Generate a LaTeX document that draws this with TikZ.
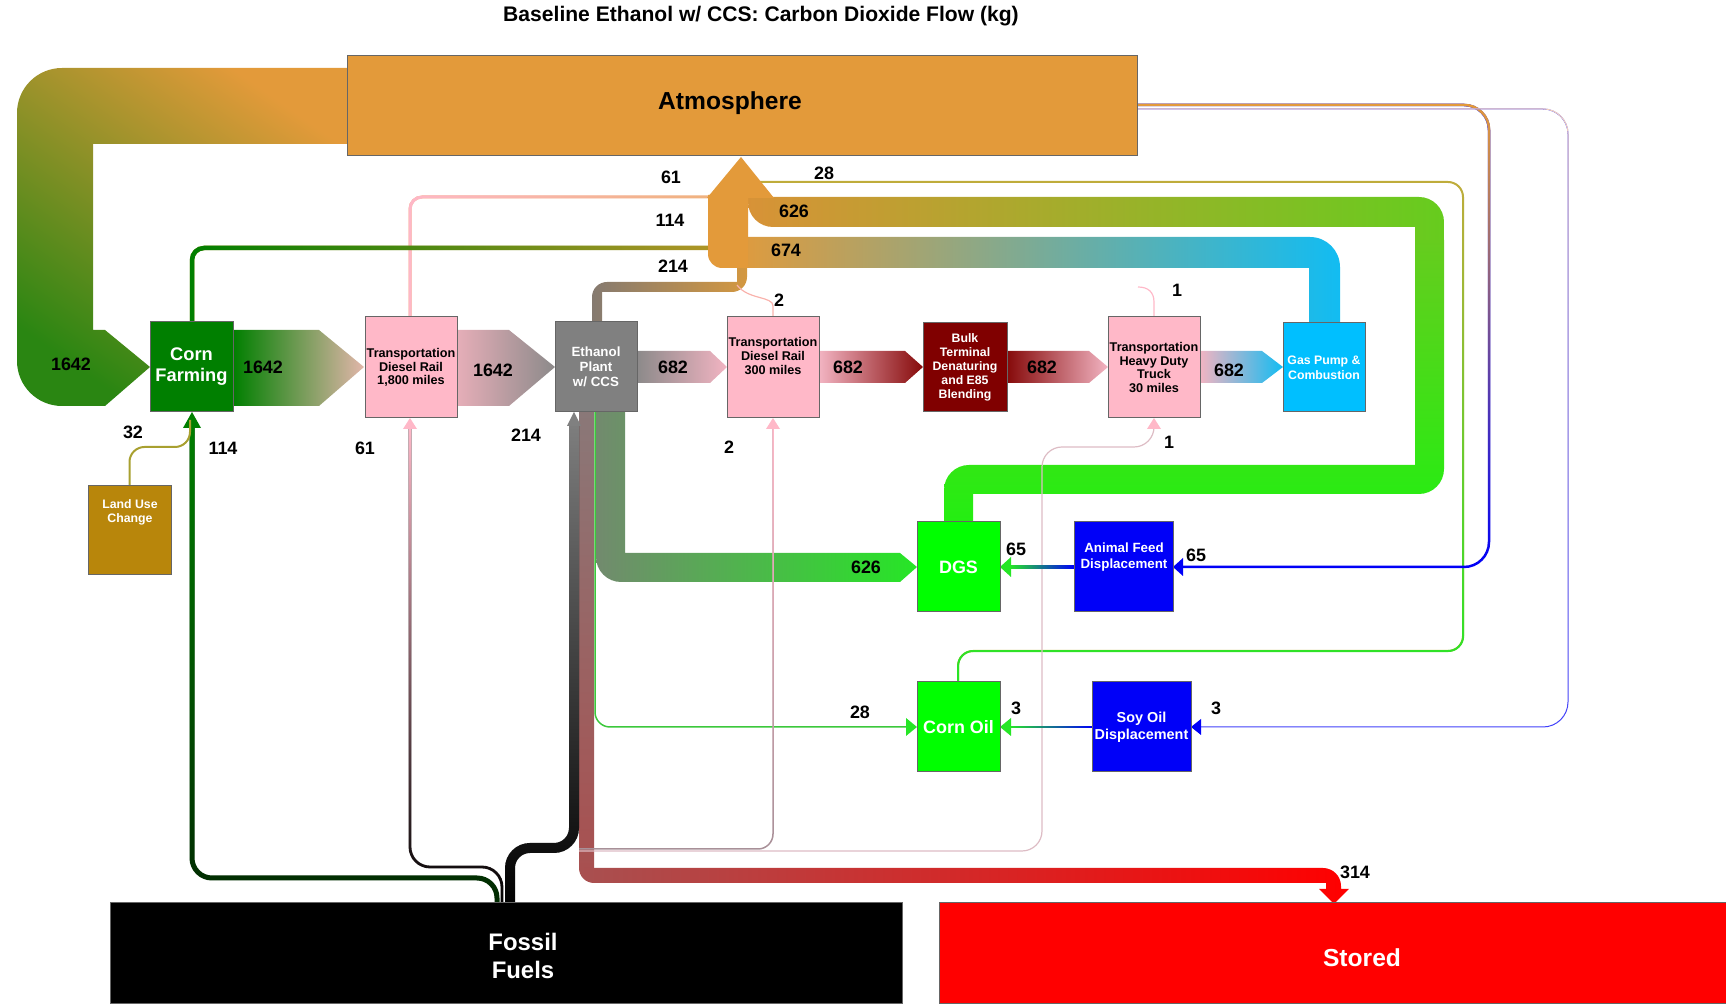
\documentclass[tikz,border=0pt]{standalone}
\usepackage{fontspec}
\setmainfont{Liberation Sans}
\usepackage{tikz}
\usetikzlibrary{calc,fadings}

\definecolor{atmo}{HTML}{E39A3A}
\definecolor{farm}{HTML}{007F00}
\definecolor{tpink}{HTML}{FFB8C8}
\definecolor{plant}{HTML}{808080}
\definecolor{bulkred}{HTML}{800000}
\definecolor{pump}{HTML}{00BFFF}
\definecolor{luc}{HTML}{B8860B}
\definecolor{lime}{HTML}{00FF00}
\definecolor{disp}{HTML}{0000F8}
\definecolor{store}{HTML}{FF0000}
\definecolor{loopgreen}{HTML}{2A8612}
\definecolor{farmfade}{HTML}{E2B6AA}
\definecolor{railfade}{HTML}{E6AEB8}
\definecolor{plantfade}{HTML}{8C8A8A}
\definecolor{redfade}{HTML}{860A0A}
\definecolor{pinkfade}{HTML}{F2B4C2}
\definecolor{skyfade}{HTML}{12BCF2}
\definecolor{olive}{HTML}{B09628}
\definecolor{peach}{HTML}{F0B27E}
\definecolor{oilline}{HTML}{C0AC3C}
\definecolor{brightgreen}{HTML}{26E626}
\definecolor{dgsfade}{HTML}{728A6E}
\definecolor{leafgreen}{HTML}{66CC1E}
\definecolor{neon}{HTML}{24EE12}
\definecolor{browngray}{HTML}{857A70}
\definecolor{amber}{HTML}{D49840}
\definecolor{mauve}{HTML}{8A7878}
\definecolor{rust}{HTML}{A85050}
\definecolor{darkleaf}{HTML}{022A02}
\definecolor{ashpink}{HTML}{A89098}
\definecolor{palepink}{HTML}{DDBCC4}
\definecolor{luline}{HTML}{A8A030}
\definecolor{oilgreen}{HTML}{3CC83C}
\definecolor{softpeach}{HTML}{F6D2BC}

\newcommand{\gline}[4]{\draw[#1] #4; \draw[#1,#2,path fading=#3] #4;}

\tikzset{
  box/.style={draw=black!60, line width=0.1mm, inner sep=0pt, align=center},
  num/.style={inner sep=0pt, font=\bfseries\fontsize{5.1}{6}\selectfont},
  sm/.style={inner sep=0pt, align=center, font=\bfseries\fontsize{3.6}{3.95}\selectfont},
}

\begin{document}
\begin{tikzpicture}[x=0.1mm,y=-0.1mm]
\useasboundingbox (0,0) rectangle (1726,1004);

\node[font=\bfseries\fontsize{6}{7}\selectfont] (title) at (761,16) {Baseline Ethanol w/ CCS: Carbon Dioxide Flow (kg)};

% flows into the atmosphere
\shade[top color=atmo, bottom color=loopgreen, shading angle=-35] (347,68) [rounded corners=4.5mm] -- (17,68) -- (17,406) [sharp corners] -- (105,406) -- (150,367) -- (105,330) -- (93,330) -- (93,144) -- (347,144) -- cycle;
\shade[left color=atmo, right color=skyfade] (1324,323) -- (1340,323) [rounded corners=3mm] -- (1340,237) [sharp corners] -- (728,237) -- (728,268) -- (1309,268) -- (1309,323) -- cycle;
\shade[top color=leafgreen, bottom color=neon] (958,522) -- (944,522) [rounded corners=2.5mm] -- (944,465) [sharp corners] -- (1415,465) -- (1415,240) -- (1444,240) [rounded corners=2.5mm] -- (1444,494) [sharp corners] -- (973,494) -- (973,522) -- cycle;
\shade[left color=atmo!95!black, right color=leafgreen] (1430,240) -- (1415,240) -- (1415,227) [rounded corners=2.5mm] -- (748,227) [sharp corners] -- (748,197) [rounded corners=2.5mm] -- (1444,197) [sharp corners] -- (1444,240) -- cycle;
\shade[left color=browngray, right color=amber] (597,322) -- (592,322) [rounded corners=1.5mm] -- (592,282) [sharp corners] -- (737,282) -- (737,262) -- (747,262) [rounded corners=1.5mm] -- (747,292) [sharp corners] -- (602,292) -- (602,322) -- cycle;
\gline{line width=0.3mm, peach, rounded corners=1.2mm}{tpink}{east}{(410,317) -- (410,197) -- (710,197)}
\gline{line width=0.45mm, olive, rounded corners=1.2mm}{farm}{east}{(192,322) -- (192,248) -- (710,248)}
\gline{line width=0.2mm, oilline, rounded corners=1.5mm}{brightgreen}{north}{(958,682) -- (958,651) -- (1463,651) -- (1463,182) -- (760,182)}
\draw[tpink!80!atmo, line width=0.12mm] (773,317) -- (773,306) .. controls (773,296) and (748,300) .. (737,285);
\draw[tpink, line width=0.12mm] (1154,317) -- (1154,302) .. controls (1154,292) and (1148,287) .. (1138,287);
\fill[atmo] (728,195) -- (708,195) [rounded corners=1.4mm] -- (708,268) [sharp corners] -- (748,268) -- (748,195) -- cycle;
\fill[atmo] (741,157) -- (774,198) -- (707,198) -- cycle;

% main chain
\shade[left color=farm, right color=farmfade] (233,330) -- (319,330) -- (364,367) -- (319,406) -- (233,406) -- cycle;
\shade[left color=railfade, right color=plantfade] (457,330) -- (509,330) -- (555,367) -- (509,406) -- (457,406) -- cycle;
\shade[left color=plantfade, right color=pinkfade] (637,351) -- (710,351) -- (727,367) -- (710,383) -- (637,383) -- cycle;
\shade[left color=pinkfade, right color=redfade] (819,351) -- (905,351) -- (923,367) -- (905,383) -- (819,383) -- cycle;
\shade[left color=redfade, right color=pinkfade] (1007,351) -- (1089,351) -- (1108,367) -- (1089,383) -- (1007,383) -- cycle;
\shade[left color=pinkfade, right color=skyfade] (1200,351) -- (1262,351) -- (1283,367) -- (1262,383) -- (1200,383) -- cycle;

% out of the ethanol plant
\shade[left color=dgsfade, right color=brightgreen] (610,412) -- (596,412) [rounded corners=2.5mm] -- (596,582) [sharp corners] -- (900,582) -- (917,567) -- (900,553) -- (625,553) -- (625,412) -- cycle;
\shade[top color=mauve, bottom color=rust] (579,412) rectangle (594,868);
\shade[left color=rust, right color=store] (586,868) -- (579,868) [rounded corners=1.5mm] -- (579,883) [sharp corners] -- (1326,883) -- (1326,889) -- (1319,889) -- (1334,904) -- (1349,889) -- (1341,889) [rounded corners=1.8mm] -- (1341,868) [sharp corners] -- (594,868) -- cycle;
\draw[oilgreen, line width=0.15mm, rounded corners=1.5mm] (595,412) -- (595,727) -- (907,727);
\fill[brightgreen] (917,727) -- (906,718) -- (906,736) -- cycle;

% fossil fuels
\gline{line width=0.5mm, darkleaf, rounded corners=2mm}{farm}{south}{(497,903) -- (497,878) -- (192,878) -- (192,426)}
\fill[farm] (192,412) -- (201,428) -- (183,428) -- cycle;
\draw[luline, line width=0.2mm, rounded corners=1.5mm] (129.5,486) -- (129.5,447) -- (190,447) -- (190,420);
\gline{line width=0.28mm, black, rounded corners=2mm}{tpink}{south}{(502,903) -- (502,867) -- (410,867) -- (410,428)}
\fill[tpink] (410,418) -- (417,429) -- (403,429) -- cycle;
\gline{line width=1mm, black, rounded corners=2mm}{plant}{south}{(510,903) -- (510,848) -- (574,848) -- (574,424)}
\fill[plant] (574,412) -- (581,426) -- (567,426) -- cycle;
\gline{line width=0.15mm, ashpink, rounded corners=1.5mm}{tpink}{south}{(579,849) -- (773,849) -- (773,428)}
\fill[tpink] (773,418) -- (780,429) -- (766,429) -- cycle;
\draw[palepink, line width=0.12mm, rounded corners=2mm] (579,851) -- (1042,851) -- (1042,447) -- (1154,447) -- (1154,428);
\fill[tpink] (1154,418) -- (1161,429) -- (1147,429) -- cycle;

% displacement credits
\gline{line width=0.25mm, disp, rounded corners=2.5mm}{atmo}{south}{(1138,105) -- (1489,105) -- (1489,567) -- (1183,567)}
\fill[disp] (1173,567) -- (1183,558) -- (1183,576) -- cycle;
\gline{line width=0.1mm, disp!75!white, rounded corners=2.5mm}{softpeach}{south}{(1138,109) -- (1568,109) -- (1568,727) -- (1201,727)}
\fill[disp] (1191,727) -- (1201,719) -- (1201,735) -- cycle;
\shade[left color=brightgreen, right color=disp] (1010,565.7) rectangle (1074,568.3);
\fill[brightgreen] (1000,567) -- (1011,557) -- (1011,577) -- cycle;
\shade[left color=brightgreen, right color=disp] (1010,726.2) rectangle (1092,727.8);
\fill[brightgreen] (1000,727) -- (1011,718) -- (1011,736) -- cycle;

% boxes
\node[box, fill=atmo, minimum width=79.1mm, minimum height=10mm] (atm) at (742.5,106) {};
\node[font=\bfseries\fontsize{7}{8}\selectfont] (atmtxt) at (730,103) {Atmosphere};
\node[box, fill=farm, text=white, minimum width=8.3mm, minimum height=9mm, font=\bfseries\fontsize{5.2}{6}\selectfont] (corn) at (191.5,367) {Corn\\Farming};
\node[box, fill=tpink, minimum width=9.2mm, minimum height=10.1mm, sm] (rail1) at (411,367.5) {Transportation\\Diesel Rail\\1,800 miles};
\node[box, fill=plant, text=white, minimum width=8.2mm, minimum height=9mm, font=\bfseries\fontsize{3.8}{4.3}\selectfont] (eth) at (596,367) {Ethanol\\Plant\\w/ CCS};
\node[box, fill=tpink, minimum width=9.2mm, minimum height=10.1mm] (rail2) at (773,367.5) {};
\node[sm] (rail2txt) at (773,356) {Transportation\\Diesel Rail\\300 miles};
\node[box, fill=bulkred, text=white, minimum width=8.4mm, minimum height=8.9mm, font=\bfseries\fontsize{3.5}{4}\selectfont] (bulk) at (965,367.5) {Bulk\\Terminal\\Denaturing\\and E85\\Blending};
\node[box, fill=tpink, minimum width=9.2mm, minimum height=10.1mm, sm] (truck) at (1154,367.5) {Transportation\\Heavy Duty\\Truck\\30 miles};
\node[box, fill=pump, text=white, minimum width=8.2mm, minimum height=8.9mm, font=\bfseries\fontsize{3.5}{4.3}\selectfont] (gas) at (1324,367.5) {Gas Pump \&\\Combustion};
\node[box, fill=luc, minimum width=8.4mm, minimum height=8.9mm] (lu) at (130,530.5) {};
\node[text=white, inner sep=0pt, align=center, font=\bfseries\fontsize{3.5}{4}\selectfont] (lutxt) at (130,512) {Land Use\\Change};
\node[box, fill=lime, text=white, minimum width=8.3mm, minimum height=9mm, font=\bfseries\fontsize{5.1}{6}\selectfont] (dgs) at (958.5,567) {DGS};
\node[box, fill=disp, minimum width=9.9mm, minimum height=9mm] (feed) at (1123.5,567) {};
\node[text=white, inner sep=0pt, align=center, font=\bfseries\fontsize{3.8}{4.3}\selectfont] (feedtxt) at (1124,557) {Animal Feed\\Displacement};
\node[box, fill=lime, text=white, minimum width=8.3mm, minimum height=9mm, font=\bfseries\fontsize{5.1}{6}\selectfont] (cornoil) at (958.5,727) {Corn Oil};
\node[box, fill=disp, text=white, minimum width=9.9mm, minimum height=9mm, font=\bfseries\fontsize{4.1}{4.8}\selectfont] (soy) at (1141.5,727) {Soy Oil\\Displacement};
\node[box, fill=black, minimum width=79.3mm, minimum height=10.1mm] (foss) at (506.5,953.5) {};
\node[text=white, inner sep=0pt, align=center, font=\bfseries\fontsize{6.8}{8}\selectfont] (fosstxt) at (523,956) {Fossil\\Fuels};
\node[box, fill=store, minimum width=78.7mm, minimum height=10.1mm] (stored) at (1332.5,953.5) {};
\node[text=white, font=\bfseries\fontsize{7}{8}\selectfont] (storedtxt) at (1362,958) {Stored};

% flow values
\node[num] (v1) at (71,364) {1642};
\node[num] (v2) at (263,367) {1642};
\node[num] (v3) at (493,370) {1642};
\node[num] (v4) at (673,367) {682};
\node[num] (v5) at (848,367) {682};
\node[num] (v6) at (1042,367) {682};
\node[num] (v7) at (1229,370) {682};
\node[num] (v8) at (671,177) {61};
\node[num] (v9) at (824,173) {28};
\node[num] (v10) at (794,211) {626};
\node[num] (v11) at (670,220) {114};
\node[num] (v12) at (786,250) {674};
\node[num] (v13) at (673,266) {214};
\node[num] (v14) at (779,300) {2};
\node[num] (v15) at (1177,290) {1};
\node[num] (v16) at (133,432) {32};
\node[num] (v17) at (223,448) {114};
\node[num] (v18) at (365,448) {61};
\node[num] (v19) at (526,435) {214};
\node[num] (v20) at (729,447) {2};
\node[num] (v21) at (1169,442) {1};
\node[num] (v22) at (1016,549) {65};
\node[num] (v23) at (1196,555) {65};
\node[num] (v24) at (866,567) {626};
\node[num] (v25) at (860,712) {28};
\node[num] (v26) at (1016,708) {3};
\node[num] (v27) at (1216,708) {3};
\node[num] (v28) at (1355,872) {314};
\end{tikzpicture}
\end{document}
